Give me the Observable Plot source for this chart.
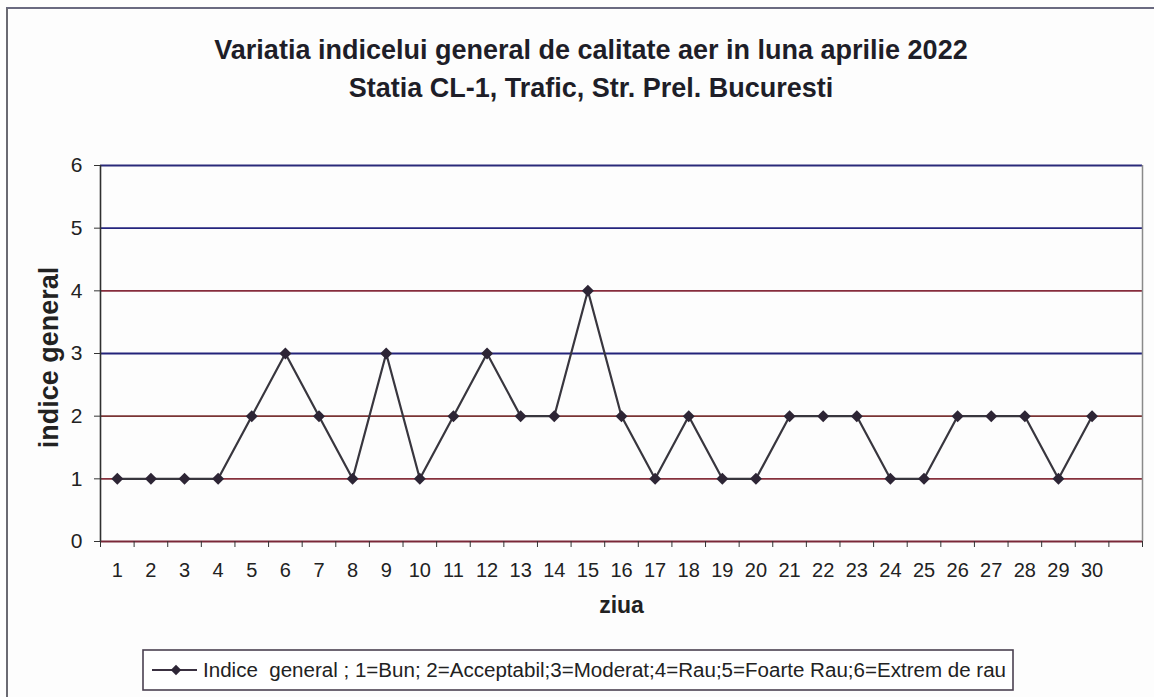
<!DOCTYPE html>
<html>
<head>
<meta charset="utf-8">
<script src="https://cdn.jsdelivr.net/npm/d3@7"></script>
<script src="https://cdn.jsdelivr.net/npm/@observablehq/plot@0.6"></script>
<style>
  html, body { margin: 0; padding: 0; background: #fff; }
  #wrap { position: relative; width: 1154px; height: 697px; overflow: hidden; background: #fdfdfd; font-family: "Liberation Sans", Arial, sans-serif; }
  #frame { position: absolute; left: 6px; top: 7px; width: 1300px; height: 800px; border-left: 2px solid #6a6a72; border-top: 2px solid #6a6a80; pointer-events: none; }
  #head { position: absolute; left: 0; top: 0; }
  #chart { position: absolute; left: 0; top: 150px; }
  #legend { position: absolute; left: 0; top: 630px; }
</style>
</head>
<body>
<div id="wrap">
  <svg id="head" width="1154" height="150"></svg>
  <div id="chart"></div>
  <svg id="legend" width="1154" height="67"></svg>
  <div id="frame"></div>
</div>
<script>
// ---- data ----
const titleLines = [
  "Variatia indicelui general de calitate aer in luna aprilie 2022",
  "Statia CL-1, Trafic, Str. Prel. Bucuresti"
];
const days = [1,2,3,4,5,6,7,8,9,10,11,12,13,14,15,16,17,18,19,20,21,22,23,24,25,26,27,28,29,30];
const indice = [1,1,1,1,2,3,2,1,3,1,2,3,2,2,4,2,1,2,1,1,2,2,2,1,1,2,2,2,1,2];
const yTicks = [0,1,2,3,4,5,6];
const xLabel = "ziua";
const yLabel = "indice general";
const legendText = "Indice  general ; 1=Bun; 2=Acceptabil;3=Moderat;4=Rau;5=Foarte Rau;6=Extrem de rau";

// ---- styling ----
const gridColor = {0: "#7a2838", 1: "#86303c", 2: "#7a3434", 3: "#23237a", 4: "#862c3c", 5: "#25257e", 6: "#2a2a7a"};
const font = "'Liberation Sans', Arial, sans-serif";

const data = days.map((d, i) => ({ziua: d, indice: indice[i]}));
const slotEdges = [0.5, ...days.map(d => d + 0.5), days.length + 1.5];

// ---- header ----
const head = d3.select("#head");
head.append("text").attr("x", 591).attr("y", 59).attr("text-anchor", "middle")
  .attr("font-family", font).attr("font-weight", "bold").attr("font-size", 27).attr("fill", "#1e1e28")
  .text(titleLines[0]);
head.append("text").attr("x", 591).attr("y", 97).attr("text-anchor", "middle")
  .attr("font-family", font).attr("font-weight", "bold").attr("font-size", 27).attr("fill", "#1e1e28")
  .text(titleLines[1]);

// ---- chart ----
const chart = Plot.plot({
  width: 1154,
  height: 480,
  marginLeft: 100,
  marginRight: 12,
  marginTop: 15,
  marginBottom: 89,
  style: {fontFamily: font, background: "transparent", color: "#222", overflow: "visible"},
  x: {type: "linear", domain: [0.5, days.length + 1.5]},
  y: {domain: [0, 6]},
  marks: [
    Plot.ruleY(yTicks, {y: d => d, stroke: d => gridColor[d], strokeWidth: 1.8}),
    Plot.ruleX([days.length + 1.5], {stroke: "#8a8a8a", strokeWidth: 1.5}),
    Plot.ruleX([0.5], {stroke: "#303030", strokeWidth: 1.6}),
    Plot.axisY({ticks: yTicks, tickSize: 6, tickPadding: 12, fontSize: 21, label: null, stroke: "#333", tickFormat: d => String(d)}),
    Plot.axisX({ticks: slotEdges, tickSize: 6, tickFormat: () => "", label: null, stroke: "#333"}),
    Plot.axisX({ticks: days, tickSize: 0, tickPadding: 21, fontSize: 20, label: null, tickFormat: d => String(d)}),
    Plot.line(data, {x: "ziua", y: "indice", stroke: "#38363e", strokeWidth: 2.2}),
    Plot.dot(data, {x: "ziua", y: "indice", symbol: "diamond2", r: 5.4, fill: "#2d2535", stroke: "none"}),
    Plot.text([xLabel], {frameAnchor: "bottom", dy: 71, fontSize: 23, fontWeight: "bold", fill: "#222"}),
    Plot.text([yLabel], {frameAnchor: "left", textAnchor: "middle", dx: -51, dy: 4, rotate: -90, fontSize: 27, fontWeight: "bold", fill: "#222"})
  ]
});
document.getElementById("chart").appendChild(chart);

// ---- legend ----
const lg = d3.select("#legend");
lg.append("rect").attr("x", 143).attr("y", 20).attr("width", 870).attr("height", 40)
  .attr("fill", "#fff").attr("stroke", "#4a4050").attr("stroke-width", 1.6);
lg.append("line").attr("x1", 152).attr("x2", 197).attr("y1", 40).attr("y2", 40)
  .attr("stroke", "#3a3040").attr("stroke-width", 2);
lg.append("path").attr("d", d3.symbol(d3.symbolDiamond2, 70)()).attr("transform", "translate(176,40)")
  .attr("fill", "#2d2535");
lg.append("text").attr("x", 203).attr("y", 47).attr("font-family", font).attr("font-size", 20)
  .attr("textLength", 803).attr("lengthAdjust", "spacingAndGlyphs")
  .attr("fill", "#222").attr("xml:space", "preserve").text(legendText);
</script>
</body>
</html>
